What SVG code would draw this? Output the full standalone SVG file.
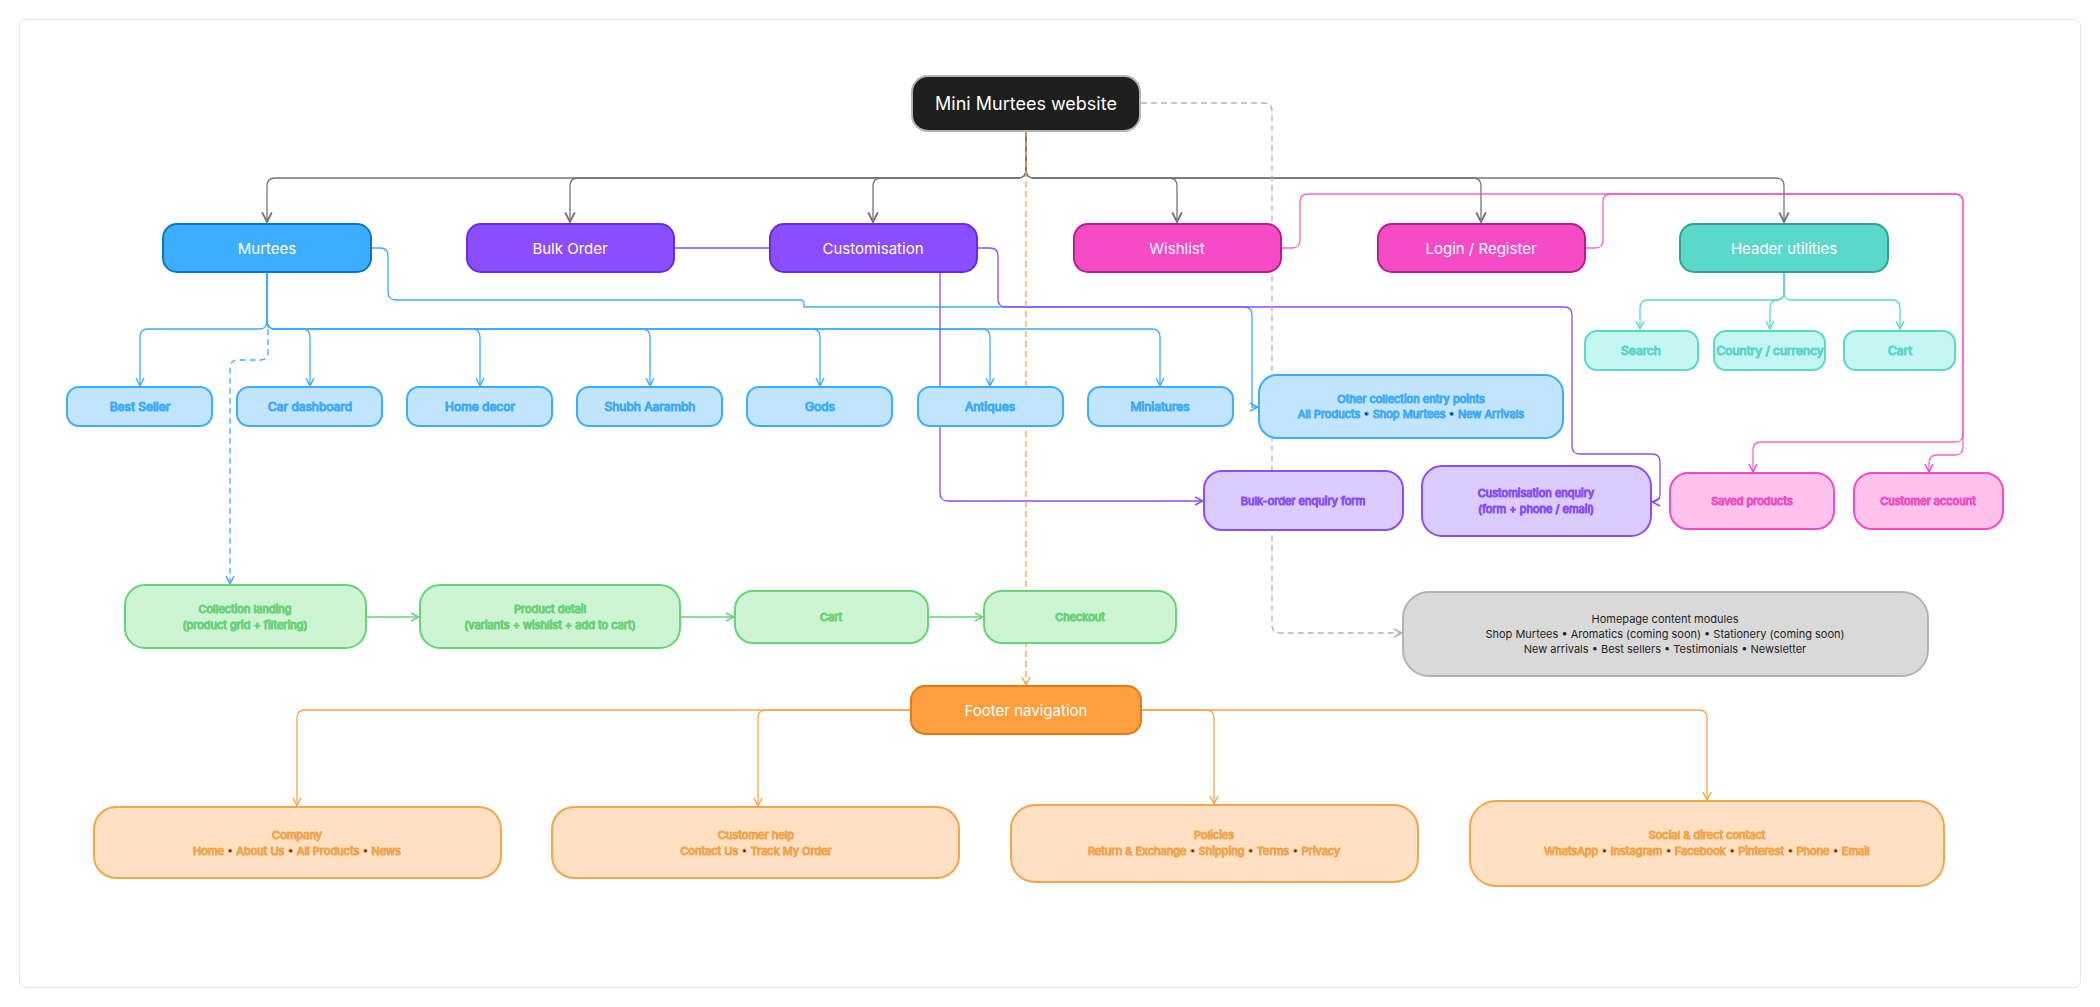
<svg xmlns="http://www.w3.org/2000/svg" width="2100" height="1007" viewBox="0 0 2100 1007">
<defs>
<style>
text{font-family:Inter,"Noto Sans","Liberation Sans",sans-serif;text-anchor:middle;dominant-baseline:central;fill:#1e1e1e;font-size:12px}
.w{fill:#fff;font-size:15px}
.c{fill:none;stroke-width:1.3}
.n rect{stroke-width:2}
</style>
<marker id="ag" viewBox="0 0 10 10" refX="9" refY="5" markerWidth="12" markerHeight="12" markerUnits="userSpaceOnUse" orient="auto"><path d="M1 1L9 5L1 9" fill="none" stroke="#757575" stroke-width="1.6"/></marker>
<marker id="ab" viewBox="0 0 10 10" refX="9" refY="5" markerWidth="10" markerHeight="10" markerUnits="userSpaceOnUse" orient="auto"><path d="M1 1L9 5L1 9" fill="none" stroke="#3dadff" stroke-width="1.4"/></marker>
<marker id="ap" viewBox="0 0 10 10" refX="9" refY="5" markerWidth="10" markerHeight="10" markerUnits="userSpaceOnUse" orient="auto"><path d="M1 1L9 5L1 9" fill="none" stroke="#8b4dff" stroke-width="1.4"/></marker>
<marker id="ak" viewBox="0 0 10 10" refX="9" refY="5" markerWidth="10" markerHeight="10" markerUnits="userSpaceOnUse" orient="auto"><path d="M1 1L9 5L1 9" fill="none" stroke="#f74ac6" stroke-width="1.4"/></marker>
<marker id="at" viewBox="0 0 10 10" refX="9" refY="5" markerWidth="10" markerHeight="10" markerUnits="userSpaceOnUse" orient="auto"><path d="M1 1L9 5L1 9" fill="none" stroke="#5cd8cb" stroke-width="1.4"/></marker>
<marker id="an" viewBox="0 0 10 10" refX="9" refY="5" markerWidth="10" markerHeight="10" markerUnits="userSpaceOnUse" orient="auto"><path d="M1 1L9 5L1 9" fill="none" stroke="#66d575" stroke-width="1.4"/></marker>
<marker id="ao" viewBox="0 0 10 10" refX="9" refY="5" markerWidth="10" markerHeight="10" markerUnits="userSpaceOnUse" orient="auto"><path d="M1 1L9 5L1 9" fill="none" stroke="#f4a64a" stroke-width="1.4"/></marker>
<marker id="ay" viewBox="0 0 10 10" refX="9" refY="5" markerWidth="10" markerHeight="10" markerUnits="userSpaceOnUse" orient="auto"><path d="M1 1L9 5L1 9" fill="none" stroke="#b3b3b3" stroke-width="1.4"/></marker>
</defs>
<rect x="0" y="0" width="2100" height="1007" fill="#fff"/>
<rect x="19.5" y="19.5" width="2061" height="968" rx="6" fill="#fff" stroke="#e6e6e6"/>

<g id="connectors">
<g stroke="#757575" class="c" marker-end="url(#ag)">
<path class="c" d="M1026 131V170Q1026 178 1018 178H275Q267 178 267 186V222"/>
<path class="c" d="M1026 131V170Q1026 178 1018 178H578Q570 178 570 186V222"/>
<path class="c" d="M1026 131V170Q1026 178 1018 178H881Q873 178 873 186V222"/>
<path class="c" d="M1026 131V170Q1026 178 1034 178H1169Q1177 178 1177 186V222"/>
<path class="c" d="M1026 131V170Q1026 178 1034 178H1473Q1481 178 1481 186V222"/>
<path class="c" d="M1026 131V170Q1026 178 1034 178H1776Q1784 178 1784 186V222"/>
</g>
<g stroke="#3dadff" class="c" marker-end="url(#ab)">
<path class="c" d="M267 272V321Q267 329 259 329H148Q140 329 140 337V386"/>
<path class="c" d="M267 272V321Q267 329 275 329H302Q310 329 310 337V386"/>
<path class="c" d="M267 272V321Q267 329 275 329H472Q480 329 480 337V386"/>
<path class="c" d="M267 272V321Q267 329 275 329H642Q650 329 650 337V386"/>
<path class="c" d="M267 272V321Q267 329 275 329H812Q820 329 820 337V386"/>
<path class="c" d="M267 272V321Q267 329 275 329H982Q990 329 990 337V386"/>
<path class="c" d="M267 272V321Q267 329 275 329H1152Q1160 329 1160 337V386"/>
<path class="c" d="M372 248H380Q388 248 388 256V292Q388 300 396 300H800Q804 300 804 304V307H1244Q1252 307 1252 315V407H1258"/>
<path class="c" d="M268 329V352Q268 360 260 360H238Q230 360 230 368V584" stroke-dasharray="6 4"/>
</g>
<g stroke="#8b4dff" class="c">
<path class="c" d="M674 248H770"/>
<path class="c" marker-end="url(#ap)" d="M940 272V493Q940 501 948 501H1203"/>
<path class="c" marker-end="url(#ap)" d="M978 248H990Q998 248 998 256V299Q998 307 1006 307H1564Q1572 307 1572 315V446Q1572 454 1580 454H1652Q1660 454 1660 462V494Q1660 502 1652 502"/>
</g>
<g stroke="#f74ac6" class="c" marker-end="url(#ak)" stroke-opacity="0.85">
<path class="c" d="M1282 248H1292Q1300 248 1300 240V202Q1300 194 1308 194H1955Q1963 194 1963 202V434Q1963 442 1955 442H1761Q1753 442 1753 450V472"/>
<path class="c" d="M1586 248H1595Q1603 248 1603 240V202Q1603 194 1611 194H1955Q1963 194 1963 202V447Q1963 455 1955 455H1937Q1929 455 1929 463V472"/>
</g>
<g stroke="#5cd8cb" class="c" marker-end="url(#at)">
<path class="c" d="M1784 272V292Q1784 300 1776 300H1648Q1640 300 1640 308V329"/>
<path class="c" d="M1784 272V292Q1784 300 1776 300H1778Q1770 300 1770 308V329"/>
<path class="c" d="M1784 272V292Q1784 300 1792 300H1892Q1900 300 1900 308V329"/>
</g>
<g stroke="#66d575" class="c" marker-end="url(#an)">
<path class="c" d="M366 617H419"/>
<path class="c" d="M680 617H734"/>
<path class="c" d="M928 617H983"/>
</g>
<g stroke="#f4a64a" class="c" marker-end="url(#ao)">
<path class="c" d="M911 710H305Q297 710 297 718V806"/>
<path class="c" d="M911 710H766Q758 710 758 718V806"/>
<path class="c" d="M1141 710H1206Q1214 710 1214 718V804"/>
<path class="c" d="M1141 710H1699Q1707 710 1707 718V800"/>
</g>
<path class="c" stroke="#ff9f3f" stroke-dasharray="6 4" marker-end="url(#ao)" d="M1026 131V685"/>
<path class="c" stroke="#b3b3b3" stroke-dasharray="6 4" marker-end="url(#ay)" d="M1141 103H1264Q1272 103 1272 111V625Q1272 633 1280 633H1402"/>
</g>

<g id="root" class="n"><rect x="912" y="76" width="228" height="55" rx="16" fill="#1e1e1e" stroke="#b3b3b3"/><text x="1026" y="103.5" class="w" font-size="18" style="font-size:18px">Mini Murtees website</text></g>

<g id="murtees" class="n"><rect x="163" y="224" width="208" height="48" rx="14" fill="#3dadff" stroke="#0a78c8"/><text x="267" y="248" class="w">Murtees</text></g>
<g id="bulk" class="n"><rect x="467" y="224" width="207" height="48" rx="14" fill="#8b4dff" stroke="#6a2ed6"/><text x="570" y="248" class="w">Bulk Order</text></g>
<g id="custom" class="n"><rect x="770" y="224" width="207" height="48" rx="14" fill="#8b4dff" stroke="#6a2ed6"/><text x="873" y="248" class="w">Customisation</text></g>
<g id="wishlist" class="n"><rect x="1074" y="224" width="207" height="48" rx="14" fill="#f74ac6" stroke="#b81f8c"/><text x="1177" y="248" class="w">Wishlist</text></g>
<g id="login" class="n"><rect x="1378" y="224" width="207" height="48" rx="14" fill="#f74ac6" stroke="#b81f8c"/><text x="1481" y="248" class="w">Login / Register</text></g>
<g id="header" class="n"><rect x="1680" y="224" width="208" height="48" rx="14" fill="#5cd8cb" stroke="#3a9e94"/><text x="1784" y="248" class="w">Header utilities</text></g>

<g fill="#c2e5ff" stroke="#3dadff">
<g id="best" class="n"><rect x="67" y="387" width="145" height="39" rx="12"/><text x="140" y="406.5">Best Seller</text></g>
<g id="car" class="n"><rect x="237" y="387" width="145" height="39" rx="12"/><text x="310" y="406.5">Car dashboard</text></g>
<g id="home" class="n"><rect x="407" y="387" width="145" height="39" rx="12"/><text x="480" y="406.5">Home decor</text></g>
<g id="shubh" class="n"><rect x="577" y="387" width="145" height="39" rx="12"/><text x="650" y="406.5">Shubh Aarambh</text></g>
<g id="gods" class="n"><rect x="747" y="387" width="145" height="39" rx="12"/><text x="820" y="406.5">Gods</text></g>
<g id="antiques" class="n"><rect x="918" y="387" width="145" height="39" rx="12"/><text x="990" y="406.5">Antiques</text></g>
<g id="mini" class="n"><rect x="1088" y="387" width="145" height="39" rx="12"/><text x="1160" y="406.5">Miniatures</text></g>
<g id="other" class="n"><rect x="1259" y="375" width="304" height="63" rx="18"/><text x="1411" y="399" style="font-size:11px">Other collection entry points</text><text x="1411" y="414" style="font-size:11px">All Products • Shop Murtees • New Arrivals</text></g>
</g>

<g fill="#c4f7f2" stroke="#5cd8cb">
<g id="search" class="n"><rect x="1585" y="331" width="113" height="39" rx="12"/><text x="1641" y="350.5">Search</text></g>
<g id="country" class="n"><rect x="1714" y="331" width="111" height="39" rx="12"/><text x="1770" y="350.5">Country / currency</text></g>
<g id="hcart" class="n"><rect x="1844" y="331" width="111" height="39" rx="12"/><text x="1900" y="350.5">Cart</text></g>
</g>

<g fill="#dccbff" stroke="#8b4dff">
<g id="bulkform" class="n"><rect x="1204" y="471" width="199" height="59" rx="18"/><text x="1303" y="500.5" style="font-size:11px">Bulk-order enquiry form</text></g>
<g id="custenq" class="n"><rect x="1422" y="466" width="229" height="70" rx="20"/><text x="1536" y="493" style="font-size:11px">Customisation enquiry</text><text x="1536" y="509" style="font-size:11px">(form + phone / email)</text></g>
</g>
<g fill="#ffc2ec" stroke="#f74ac6">
<g id="saved" class="n"><rect x="1670" y="473" width="164" height="56" rx="18"/><text x="1752" y="501" style="font-size:11px">Saved products</text></g>
<g id="account" class="n"><rect x="1854" y="473" width="149" height="56" rx="18"/><text x="1928" y="501" style="font-size:11px">Customer account</text></g>
</g>

<g fill="#cdf4d3" stroke="#66d575">
<g id="landing" class="n"><rect x="125" y="585" width="241" height="63" rx="20"/><text x="245" y="609" style="font-size:11px">Collection landing</text><text x="245" y="625" style="font-size:11px">(product grid + filtering)</text></g>
<g id="detail" class="n"><rect x="420" y="585" width="260" height="63" rx="20"/><text x="550" y="609" style="font-size:11px">Product detail</text><text x="550" y="625" style="font-size:11px">(variants + wishlist + add to cart)</text></g>
<g id="cart" class="n"><rect x="735" y="591" width="193" height="52" rx="18"/><text x="831" y="617" style="font-size:11px">Cart</text></g>
<g id="checkout" class="n"><rect x="984" y="591" width="192" height="52" rx="18"/><text x="1080" y="617" style="font-size:11px">Checkout</text></g>
</g>

<g id="homepage" class="n"><rect x="1403" y="592" width="525" height="84" rx="26" fill="#d9d9d9" stroke="#b3b3b3"/><text x="1665" y="619" style="font-size:11px">Homepage content modules</text><text x="1665" y="634" style="font-size:11px">Shop Murtees • Aromatics (coming soon) • Stationery (coming soon)</text><text x="1665" y="649" style="font-size:11px">New arrivals • Best sellers • Testimonials • Newsletter</text></g>

<g id="footer" class="n"><rect x="911" y="686" width="230" height="48" rx="14" fill="#ff9f3f" stroke="#e8780f"/><text x="1026" y="710" class="w">Footer navigation</text></g>

<g fill="#ffe0c2" stroke="#f4a64a">
<g id="company" class="n"><rect x="94" y="807" width="407" height="71" rx="22"/><text x="297" y="835" style="font-size:11px">Company</text><text x="297" y="851" style="font-size:11px">Home • About Us • All Products • News</text></g>
<g id="help" class="n"><rect x="552" y="807" width="407" height="71" rx="22"/><text x="756" y="835" style="font-size:11px">Customer help</text><text x="756" y="851" style="font-size:11px">Contact Us • Track My Order</text></g>
<g id="policies" class="n"><rect x="1011" y="805" width="407" height="77" rx="24"/><text x="1214" y="835" style="font-size:11px">Policies</text><text x="1214" y="851" style="font-size:11px">Return &amp; Exchange • Shipping • Terms • Privacy</text></g>
<g id="social" class="n"><rect x="1470" y="801" width="474" height="85" rx="26"/><text x="1707" y="835" style="font-size:11px">Social &amp; direct contact</text><text x="1707" y="851" style="font-size:11px">WhatsApp • Instagram • Facebook • Pinterest • Phone • Email</text></g>
</g>
</svg>
